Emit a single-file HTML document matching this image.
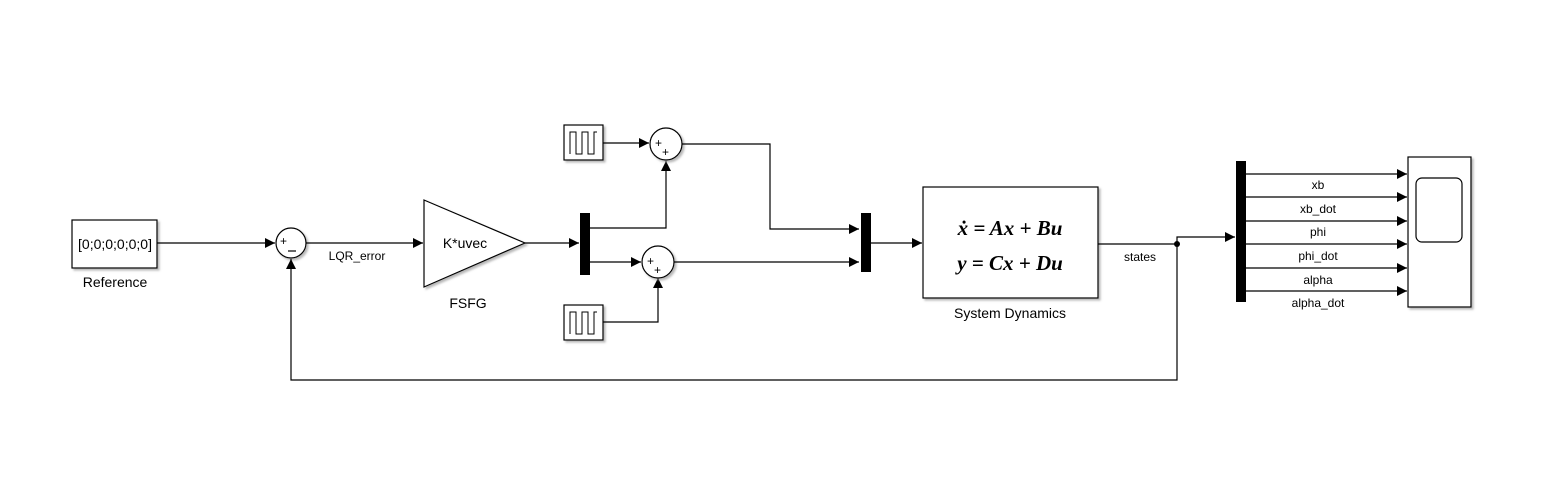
<!DOCTYPE html>
<html><head><meta charset="utf-8"><style>
html,body{margin:0;padding:0;background:#fff}
svg{display:block}
text{font-family:"Liberation Sans",sans-serif;fill:#000}
</style></head><body>
<svg width="1566" height="488" viewBox="0 0 1566 488" xmlns="http://www.w3.org/2000/svg">
<defs>
<marker id="a" markerWidth="10" markerHeight="10" refX="10" refY="5" orient="auto" markerUnits="userSpaceOnUse"><path d="M0,0 L10,5 L0,10 z" fill="#000"/></marker>
<filter id="sh" x="-10%" y="-10%" width="130%" height="130%"><feDropShadow dx="2" dy="2" stdDeviation="1" flood-color="#888" flood-opacity="0.6"/></filter>
</defs>
<g stroke="#000" stroke-width="1.2" fill="none">
<rect x="72" y="220" width="85" height="48" fill="#fff" filter="url(#sh)"/>
<line x1="157" y1="243" x2="275" y2="243" marker-end="url(#a)"/>
<circle cx="291" cy="243" r="15" fill="#fff" filter="url(#sh)"/>
<line x1="306" y1="243" x2="423" y2="243" marker-end="url(#a)"/>
<polygon points="424,200 525,243 424,287" fill="#fff" filter="url(#sh)"/>
<line x1="525" y1="243" x2="579" y2="243" marker-end="url(#a)"/>
<rect x="580" y="213" width="10" height="62" fill="#000" stroke="none"/>
<polyline points="590,228 666,228 666,161" marker-end="url(#a)"/>
<line x1="590" y1="262" x2="641" y2="262" marker-end="url(#a)"/>
<rect x="564" y="125" width="39" height="35" fill="#fff" filter="url(#sh)"/>
<path d="M570,154 V132 H576 V154 H582 V132 H588 V154 H594 V132 H597" stroke-width="1"/>
<line x1="603" y1="143" x2="649" y2="143" marker-end="url(#a)"/>
<circle cx="666" cy="144" r="16" fill="#fff" filter="url(#sh)"/>
<rect x="564" y="305" width="39" height="35" fill="#fff" filter="url(#sh)"/>
<path d="M570,334 V312 H576 V334 H582 V312 H588 V334 H594 V312 H597" stroke-width="1"/>
<polyline points="603,322 658,322 658,278" marker-end="url(#a)"/>
<circle cx="658" cy="262" r="16" fill="#fff" filter="url(#sh)"/>
<polyline points="682,144 770,144 770,229 859,229" marker-end="url(#a)"/>
<line x1="674" y1="262" x2="859" y2="262" marker-end="url(#a)"/>
<rect x="861" y="213" width="10" height="59" fill="#000" stroke="none"/>
<line x1="871" y1="243" x2="922" y2="243" marker-end="url(#a)"/>
<rect x="923" y="187" width="175" height="111" fill="#fff" filter="url(#sh)"/>
<line x1="1098" y1="244" x2="1177" y2="244"/>
<polyline points="1177,244 1177,237 1235,237" marker-end="url(#a)"/>
<polyline points="1177,244 1177,380 291,380 291,259" marker-end="url(#a)"/>
<rect x="1236" y="161" width="10" height="141" fill="#000" stroke="none"/>
<line x1="1246" y1="174" x2="1407" y2="174" marker-end="url(#a)"/>
<line x1="1246" y1="197" x2="1407" y2="197" marker-end="url(#a)"/>
<line x1="1246" y1="221" x2="1407" y2="221" marker-end="url(#a)"/>
<line x1="1246" y1="244" x2="1407" y2="244" marker-end="url(#a)"/>
<line x1="1246" y1="268" x2="1407" y2="268" marker-end="url(#a)"/>
<line x1="1246" y1="291" x2="1407" y2="291" marker-end="url(#a)"/>
<rect x="1408" y="157" width="63" height="150" fill="#fff" filter="url(#sh)"/>
<rect x="1416" y="178" width="46" height="64" rx="6" fill="#fff"/>
<line x1="288" y1="251" x2="296" y2="251"/>
</g>
<circle cx="1177" cy="244" r="3" fill="#000"/>
<text x="115" y="249" font-size="14" text-anchor="middle">[0;0;0;0;0;0]</text>
<text x="115" y="287" font-size="14" text-anchor="middle">Reference</text>
<text x="280" y="245" font-size="12">+</text>
<text x="357" y="260" font-size="12" text-anchor="middle">LQR_error</text>
<text x="465" y="248" font-size="14" text-anchor="middle">K*uvec</text>
<text x="468" y="308" font-size="14" text-anchor="middle">FSFG</text>
<text x="655" y="147" font-size="12">+</text>
<text x="662" y="156" font-size="12">+</text>
<text x="647" y="265" font-size="12">+</text>
<text x="654" y="274" font-size="12">+</text>
<text x="1010" y="235" font-size="21" font-weight="bold" text-anchor="middle" font-style="italic" style="font-family:'Liberation Serif',serif">ẋ = Ax + Bu</text>
<text x="1010" y="270" font-size="21" font-weight="bold" text-anchor="middle" font-style="italic" style="font-family:'Liberation Serif',serif">y = Cx + Du</text>
<text x="1010" y="318" font-size="14" text-anchor="middle">System Dynamics</text>
<text x="1140" y="261" font-size="12" text-anchor="middle">states</text>
<g font-size="12" text-anchor="middle">
<text x="1318" y="189">xb</text>
<text x="1318" y="213">xb_dot</text>
<text x="1318" y="236">phi</text>
<text x="1318" y="260">phi_dot</text>
<text x="1318" y="284">alpha</text>
<text x="1318" y="307">alpha_dot</text>
</g>
</svg>
</body></html>
